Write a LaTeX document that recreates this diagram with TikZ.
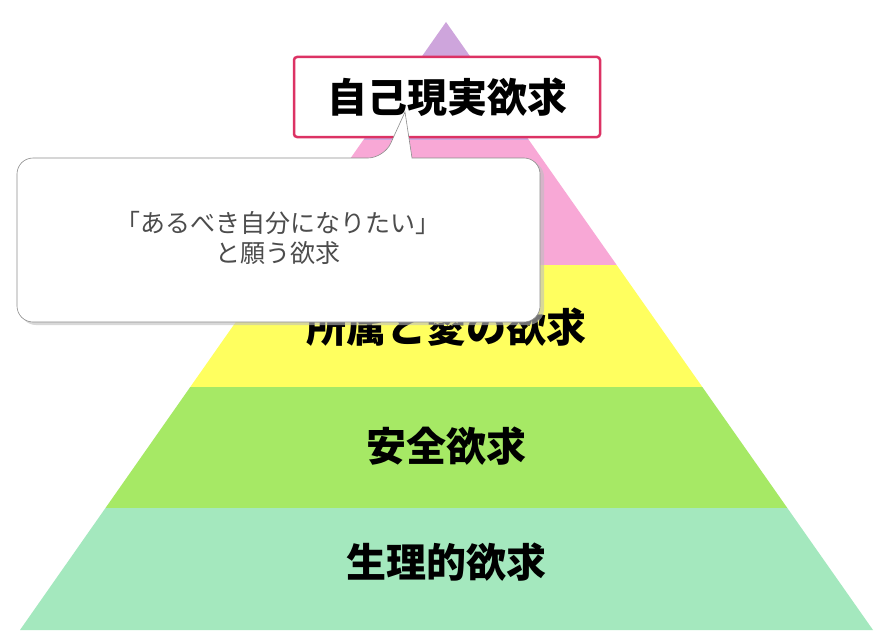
\documentclass[tikz,border=0pt]{standalone}
\usepackage{fontspec}
\newfontfamily\cjk{Noto Sans CJK JP}
\begin{document}
\begin{tikzpicture}[x=1pt,y=-1pt,
  lvl/.style={font=\cjk\fontsize{40}{44}\selectfont\bfseries, text=black},
  ]
\useasboundingbox (0,0) rectangle (877,642);
\fill[white] (0,0) rectangle (877,642);
\begin{scope}
\clip (446,22) -- (873,630) -- (20,630) -- cycle;
\fill[fill={rgb,255:red,206;green,165;blue,220}] (0,0) rectangle (877,140);
\fill[fill={rgb,255:red,248;green,168;blue,214}] (0,140) rectangle (877,265);
\fill[fill={rgb,255:red,255;green,255;blue,95}] (0,265) rectangle (877,387);
\fill[fill={rgb,255:red,166;green,233;blue,101}] (0,387) rectangle (877,508);
\fill[fill={rgb,255:red,164;green,232;blue,190}] (0,508) rectangle (877,642);
\end{scope}
\node[lvl] (l3) at (446,327) {所属と愛の欲求};
\node[lvl] (l2) at (446,446) {安全欲求};
\node[lvl] (l1) at (446,562) {生理的欲求};
\node[lvl, draw={rgb,255:red,220;green,50;blue,100}, line width=2.5pt, fill=white, rounded corners=3pt,
  minimum width=306pt, minimum height=80pt, inner sep=0pt] (top) at (447,97) {自己現実欲求};
\coordinate (tip) at (405,112);
\fill[black!25, opacity=0.6, rounded corners=16pt] (20,161) rectangle (544,325);
\filldraw[draw=black!45, fill=white, line width=0.6pt, rounded corners=16pt]
  (17,158) -- (384,158) [sharp corners] -- (tip) -- (412,158) [rounded corners=16pt] -- (540,158) -- (540,322) -- (17,322) -- cycle;
\node[font=\cjk\fontsize{25}{30}\selectfont, text=black!70, align=center] (call) at (278,238)
  {「あるべき自分になりたい」\\と願う欲求};
\end{tikzpicture}
\end{document}
